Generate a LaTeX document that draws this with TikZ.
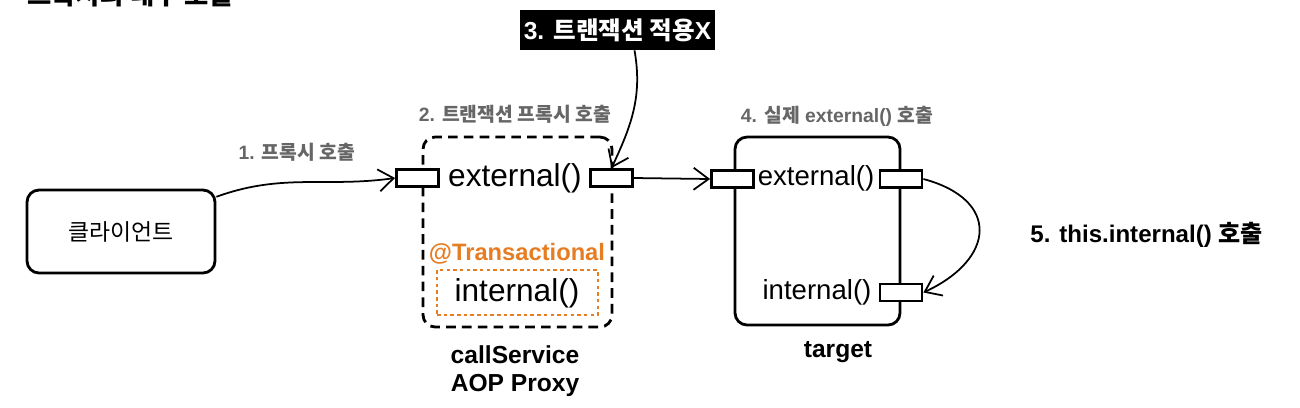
\documentclass[tikz,border=0pt]{standalone}
\usepackage{fontspec}
\setmainfont{Liberation Sans}
\newfontfamily\kr{Noto Sans CJK KR}
\usetikzlibrary{arrows.meta}
\definecolor{labelgray}{RGB}{102,102,102}
\definecolor{txorange}{RGB}{230,125,35}
\tikzset{
  >={Straight Barb[length=3mm,width=4.4mm,line width=1pt]},
  {box/.style} ={draw, line width=1.6pt, rounded corners=2.4mm, inner sep=0},
  {proxybox/.style} ={box, dash pattern=on 5.5pt off 3.5pt},
  {port/.style} ={draw, line width=1.6pt, fill=white,
                  minimum width=0.84cm, minimum height=0.34cm, inner sep=0},
  {method/.style} ={font=\fontsize{18}{20}\selectfont, inner sep=0},
  {small method/.style} ={font=\fontsize{15.7}{18}\selectfont, inner sep=0},
  {step label/.style} ={font=\bfseries\fontsize{11}{13}\selectfont,
                  text=labelgray, inner sep=0},
  {call/.style} ={draw, line width=1pt, ->},
}
\begin{document}
\begin{tikzpicture}[x=0.02cm, y=-0.02cm]
\useasboundingbox (0,0) rectangle (1300,407);
% title, cut off by the page edge
\node[anchor=base west, font=\kr\bfseries\fontsize{15}{18}\selectfont, inner sep=0] (title) at (27,4) {프록시와 내부 호출};

% boxes
\node[box, minimum width=3.76cm, minimum height=1.66cm,
      font=\kr\fontsize{13}{15}\selectfont] (client) at (121,231.5) {클라이언트};
\node[proxybox, minimum width=3.78cm, minimum height=3.8cm] (proxy) at (517.5,232) {};
\node[box, minimum width=3.3cm, minimum height=3.76cm] (target) at (817.5,231) {};
\node[draw=txorange, line width=1.6pt, dash pattern=on 2pt off 1.8pt,
      minimum width=3.22cm, minimum height=0.9cm] (txbox) at (517.5,292.5) {};

% ports
\node[port] (pL) at (417.5,178) {};
\node[port] (pR) at (611.5,178) {};
\node[port] (tL) at (732.5,179) {};
\node[port] (tR) at (901,179) {};
\node[port] (tI) at (901,292.5) {};

% methods
\node[method] (pExt) at (515,178) {external()};
\node[method] (pInt) at (517,293) {internal()};
\node[small method] (tExt) at (816,178) {external()};
\node[small method] (tInt) at (817,292) {internal()};
\node[font=\bfseries\fontsize{13.5}{16}\selectfont, text=txorange, inner sep=0] (txann) at (517,254) {@Transactional};
\node[font=\bfseries\fontsize{14}{16}\selectfont, align=center, inner sep=0] (proxyname) at (515,371) {callService\\AOP Proxy};
\node[font=\bfseries\fontsize{14}{16}\selectfont, inner sep=0] (targetname) at (838,352) {target};

% steps
\node[step label] (s1) at (297,152) {1. {\kr 프록시 호출}};
\node[step label] (s2) at (515,114) {2. {\kr 트랜잭션 프록시 호출}};
\node[fill=black, text=white, font=\bfseries\fontsize{14}{16}\selectfont,
      minimum width=3.9cm, minimum height=0.8cm, inner sep=0] (s3) at (617.5,30) {3. {\kr 트랜잭션 적용}X};
\node[step label] (s4) at (837,116) {4. {\kr 실제} external() {\kr 호출}};
\node[font=\bfseries\fontsize{13.7}{16}\selectfont, anchor=west, inner sep=0] (s5) at (1030,235) {5. this.internal() {\kr 호출}};

% calls
\path[call] (client.20) to[out=20, in=188] (pL.west);
\path[call] (pR.east) -- (tL.west);
\path[call] ([xshift=0.34cm]s3.south) to[out=-80, in=65] (pR.north);
\path[call] (tR.east) to[out=-15, in=25, looseness=1.8] (tI.east);
\end{tikzpicture}
\end{document}
